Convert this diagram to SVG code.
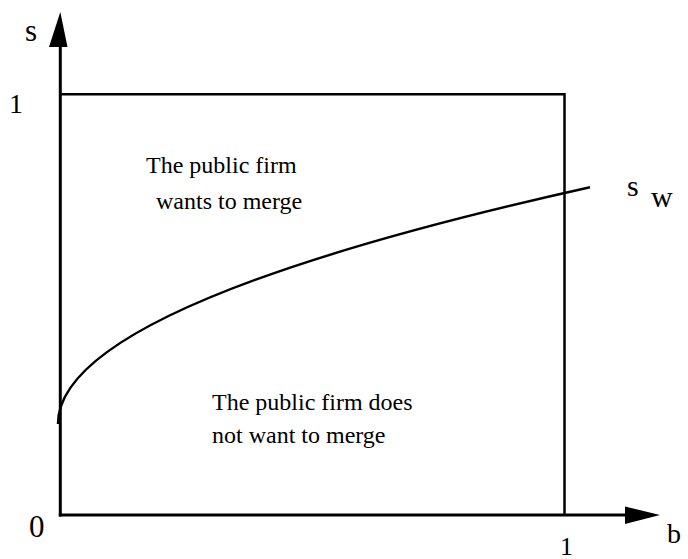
<svg xmlns="http://www.w3.org/2000/svg" width="688" height="559" viewBox="0 0 688 559">
<style>
  .ax { stroke: #000; stroke-width: 3; fill: none; }
  .bx { stroke: #000; stroke-width: 2.5; fill: none; }
  .cv { stroke: #000; stroke-width: 2.5; fill: none; }
  .head { fill: #000; stroke: none; }
  svg text, text.tx, .tx { font-family: "Liberation Serif", serif !important; fill: #000; }
</style>
<rect width="688" height="559" fill="#fff"/>
<g id="axes">
  <line class="ax" x1="60.3" y1="516.5" x2="60.3" y2="44"/>
  <polygon class="head" points="60.3,12 49,47 67.5,47"/>
  <line class="ax" x1="58.8" y1="515" x2="628" y2="515"/>
  <polygon class="head" points="660,515 625,506.5 625,524"/>
</g>
<g id="box">
  <polyline class="bx" points="60.3,94.3 564.5,94.3 564.5,515"/>
</g>
<g id="curve">
  <path class="cv" d="M58,424 Q58,305.7 590,187.3"/>
</g>
<g id="labels" font-family="Liberation Serif, serif">
  <text class="tx" style="font-family:'Liberation Serif',serif" x="25" y="41" font-size="31">s</text>
  <text class="tx" style="font-family:'Liberation Serif',serif" x="9" y="113" font-size="28">1</text>
  <text class="tx" style="font-family:'Liberation Serif',serif" x="29" y="537" font-size="31">0</text>
  <text class="tx" style="font-family:'Liberation Serif',serif" x="560" y="555" font-size="26">1</text>
  <text class="tx" style="font-family:'Liberation Serif',serif" x="667" y="543" font-size="28">b</text>
  <text class="tx" style="font-family:'Liberation Serif',serif" x="627" y="196" font-size="30">s</text>
  <text class="tx" style="font-family:'Liberation Serif',serif" x="651" y="207" font-size="30">w</text>
</g>
<g id="region-upper" font-family="Liberation Serif, serif">
  <text class="tx" style="font-family:'Liberation Serif',serif" x="146" y="173" font-size="24">The public firm</text>
  <text class="tx" style="font-family:'Liberation Serif',serif" x="156" y="209" font-size="24">wants to merge</text>
</g>
<g id="region-lower" font-family="Liberation Serif, serif">
  <text class="tx" style="font-family:'Liberation Serif',serif" x="212" y="410" font-size="24">The public firm does</text>
  <text class="tx" style="font-family:'Liberation Serif',serif" x="212" y="443" font-size="24">not want to merge</text>
</g>
</svg>
